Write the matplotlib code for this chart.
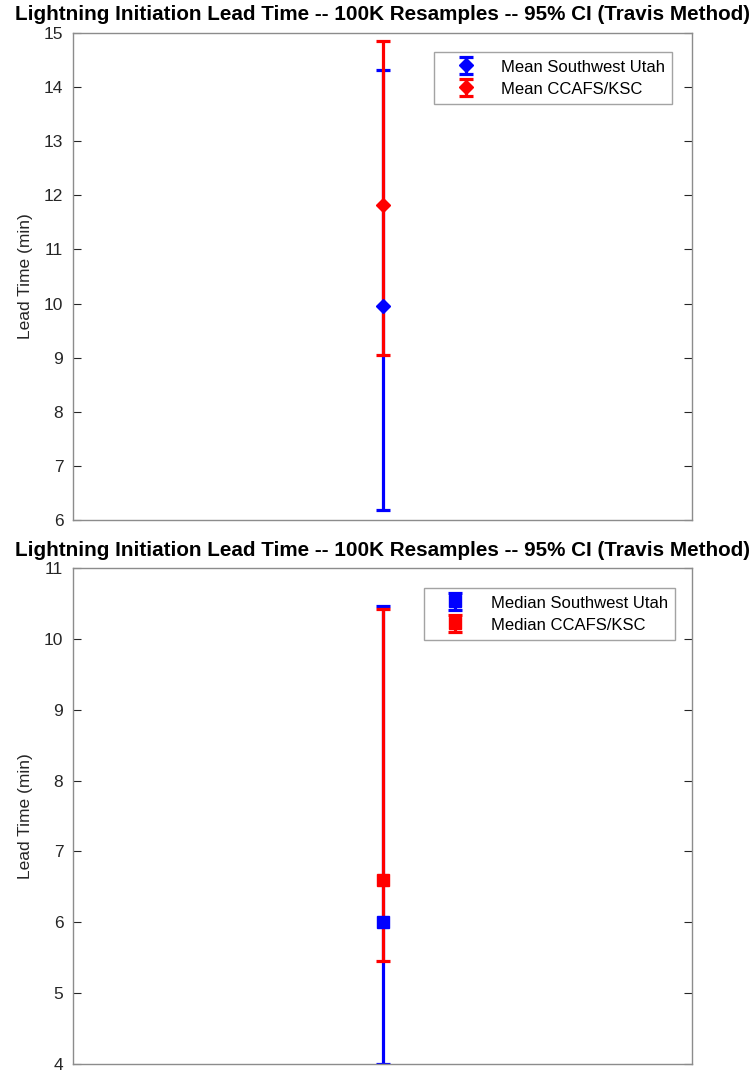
import matplotlib
matplotlib.use("Agg")
import matplotlib.pyplot as plt

plt.rcParams['font.family'] = ['Liberation Sans', 'DejaVu Sans']

title = "Lightning Initiation Lead Time -- 100K Resamples -- 95% CI (Travis Method)"
ylabel = "Lead Time (min)"

# Top panel: mean with 95% CI
mean_labels = ["Mean Southwest Utah", "Mean CCAFS/KSC"]
mean_vals = [9.96, 11.83]
mean_lo = [6.18, 9.05]
mean_hi = [14.32, 14.86]

# Bottom panel: median with 95% CI
median_labels = ["Median Southwest Utah", "Median CCAFS/KSC"]
median_vals = [6.0, 6.6]
median_lo = [4.0, 5.46]
median_hi = [10.47, 10.42]

colors = ["#0000ff", "#ff0000"]
xpos = 1

fig = plt.figure(figsize=(7.56, 10.70), dpi=100)
W, H = 756, 1070
AX_L, AX_R = 73, 692

def add_ax(left, top, right, bottom):
    return fig.add_axes([left / W, 1 - bottom / H, (right - left) / W, (bottom - top) / H])

def panel(ax, vals, lo, hi, labels, marker, ms, ylim, yticks, leg_xy, top, bottom):
    handles = []
    for v, l, h, c, lab in zip(vals, lo, hi, colors, labels):
        eb = ax.errorbar([xpos], [v], yerr=[[v - l], [h - v]], fmt=marker, color=c,
                         ecolor=c, elinewidth=2.3, capsize=4.7, capthick=2.3,
                         markersize=ms, markeredgecolor=c, markerfacecolor=c, label=lab)
        handles.append(eb)
    ax.set_xlim(0, 2)
    ax.set_ylim(*ylim)
    ax.set_yticks(yticks)
    ax.set_xticks([])
    ax.tick_params(axis='y', direction='in', right=True, left=True, labelsize=12.5,
                   colors='#262626', length=6, width=0.8, pad=7)
    for s in ax.spines.values():
        s.set_color('#8c8c8c')
        s.set_linewidth(1.0)
    ax.set_ylabel(ylabel, fontsize=12.5, color='#262626')
    ax.yaxis.set_label_coords((33 - AX_L) / (AX_R - AX_L), 0.5)
    lx, ly = leg_xy
    leg = ax.legend(handles=handles, loc='upper right',
                    bbox_to_anchor=((lx - AX_L) / (AX_R - AX_L), 1 - (ly - top) / (bottom - top)),
                    borderaxespad=0,
                    fontsize=12, frameon=True, fancybox=False, edgecolor='#8c8c8c',
                    handlelength=3.0, handleheight=1.0, borderpad=0.4, labelspacing=0.35,
                    handletextpad=0.65)
    leg.get_frame().set_linewidth(1.0)

ax1 = add_ax(AX_L, 33, AX_R, 520)
panel(ax1, mean_vals, mean_lo, mean_hi, mean_labels, 'D', 7.5, (6, 15), range(6, 16),
      (672, 52), 33, 520)
ax2 = add_ax(AX_L, 568, AX_R, 1064)
panel(ax2, median_vals, median_lo, median_hi, median_labels, 's', 8.5, (4, 11), range(4, 12),
      (675, 588), 568, 1064)

cx = (AX_L + AX_R) / 2 / W
fig.text(cx, 1 - 15 / H, title, ha='center', va='center', fontsize=14.9, fontweight='bold')
fig.text(cx, 1 - 551 / H, title, ha='center', va='center', fontsize=14.9, fontweight='bold')

fig.savefig("out.png", dpi=100)
